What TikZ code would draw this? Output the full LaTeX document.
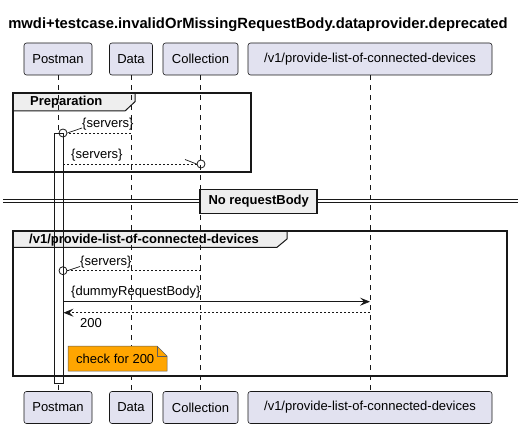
\documentclass[tikz,border=0pt]{standalone}
\usepackage{fontspec}
\setmainfont{Liberation Sans}
\usetikzlibrary{arrows.meta,calc}
\definecolor{partfill}{HTML}{E2E2F0}
\definecolor{lineC}{HTML}{181818}
\definecolor{hdrfill}{HTML}{EEEEEE}
\definecolor{notefill}{HTML}{FFA500}
\begin{document}
\begin{tikzpicture}[x=1pt,y=-1pt,
  font=\fontsize{13}{15}\selectfont,
  part/.style={draw=lineC, fill=partfill, rounded corners=2.5pt, minimum height=32pt, inner sep=0pt, line width=0.6pt},
  lifeline/.style={draw=lineC, line width=0.5pt, dash pattern=on 5pt off 5pt},
  msgline/.style={draw=lineC, line width=0.7pt},
  retline/.style={draw=lineC, line width=0.7pt, dash pattern=on 2pt off 2pt},
  tip/.style={-{Stealth[length=10pt,width=8pt,inset=4pt]}},
  framebox/.style={draw=lineC, line width=1.5pt},
  hdr/.style={fill=hdrfill},
  lbl/.style={anchor=west, inner sep=0pt},
  bold/.style={font=\fontsize{13}{15}\selectfont\bfseries}
]
\useasboundingbox (0,0) rectangle (528,428);

% title
\node[font=\fontsize{14.8}{17}\selectfont\bfseries] (title) at (258,25) {mwdi+testcase.invalidOrMissingRequestBody.dataprovider.deprecated};

% participants top
\node[part, minimum width=68pt] (pT) at (58,59) {Postman};
\node[part, minimum width=43pt] (dT) at (131,59) {Data};
\node[part, minimum width=75pt] (cT) at (200.5,59) {Collection};
\node[part, minimum width=244pt] (vT) at (370,59) {/v1/provide-list-of-connected-devices};
% participants bottom
\node[part, minimum width=68pt] (pB) at (58,407.5) {Postman};
\node[part, minimum width=43pt] (dB) at (131,407.5) {Data};
\node[part, minimum width=75pt] (cB) at (200.5,407.5) {Collection};
\node[part, minimum width=244pt] (vB) at (370,407.5) {/v1/provide-list-of-connected-devices};

% frame headers fills
\fill[hdr] (13,93) -- (135,93) -- (135,101.7) -- (125,111) -- (13,111) -- cycle;
\fill[hdr] (13,231) -- (287,231) -- (287,239) -- (277,247.3) -- (13,247.3) -- cycle;

% lifelines
\draw[lifeline] (pT.south) -- (pB.north);
\draw[lifeline] (dT.south) -- (dB.north);
\draw[lifeline] (cT.south) -- (cB.north);
\draw[lifeline] (vT.south) -- (vB.north);

% activation
\fill[white] (54,133) rectangle (63,383);
\fill[hdr] (54,231.8) rectangle (63,247.3);
\draw[lineC, line width=0.8pt] (54,133) rectangle (63,383);

% frames
\draw[framebox] (13,93) rectangle (251,172);
\draw[lineC, line width=1pt] (135,93) -- (135,101.7) -- (125,111) -- (13,111);
\node[lbl, bold] (prep) at (30,102) {Preparation};

\draw[framebox] (13,231) rectangle (507,376);
\draw[lineC, line width=1pt] (287,231) -- (287,239) -- (277,247.3) -- (13,247.3);
\node[lbl, bold] (v1hdr) at (29,240) {/v1/provide-list-of-connected-devices};

% divider
\draw[lineC, line width=0.8pt] (3,199.7) -- (518,199.7);
\draw[lineC, line width=0.8pt] (3,202.5) -- (518,202.5);
\node[draw=lineC, line width=1.5pt, fill=hdrfill, bold, minimum width=117pt, minimum height=24pt, inner sep=0pt] (div) at (258.7,201.3) {No requestBody};

% message 1: Data -> Postman (found circle)
\coordinate (m1a) at (131,133);
\coordinate (m1c) at (82,128);
\node[draw=lineC, line width=0.8pt, circle, minimum size=8pt, inner sep=0pt] (c1) at (63,133) {};
\draw[retline] (m1a) -- (c1.east);
\draw[lineC, line width=0.7pt] (c1.east) -- (m1c);
\node[lbl] (l1) at (82,124.5) {\{servers\}};

% message 2: Postman -> Collection
\coordinate (m2a) at (63,164);
\coordinate (m2c) at (185,159.5);
\node[draw=lineC, line width=0.8pt, circle, minimum size=8pt, inner sep=0pt] (c2) at (201,164) {};
\draw[retline] (m2a) -- (c2.west);
\draw[lineC, line width=0.7pt] (m2c) -- (c2.west);
\node[lbl] (l2) at (71,155) {\{servers\}};

% message 3: Collection -> Postman
\coordinate (m3a) at (200.5,270.7);
\coordinate (m3c) at (80,266.5);
\node[draw=lineC, line width=0.8pt, circle, minimum size=8pt, inner sep=0pt] (c3) at (63,270.7) {};
\draw[retline] (m3a) -- (c3.east);
\draw[lineC, line width=0.7pt] (c3.east) -- (m3c);
\node[lbl] (l3) at (80,261.7) {\{servers\}};

% message 4: Postman -> /v1
\coordinate (m4a) at (63,301.7);
\coordinate (m4b) at (370,301.7);
\draw[msgline, tip] (m4a) -- (m4b);
\node[lbl] (l4) at (71,292.5) {\{dummyRequestBody\}};

% message 5: /v1 -> Postman
\coordinate (m5a) at (370,312.7);
\coordinate (m5b) at (63.5,312.7);
\draw[retline, tip] (m5a) -- (m5b);
\node[lbl] (l5) at (80,322.7) {200};

% note
\draw[draw=lineC!70, line width=0.5pt, fill=notefill] (68,346) -- (157,346) -- (167,356) -- (167,371) -- (68,371) -- cycle;
\draw[draw=lineC!70, line width=0.5pt] (157,346) -- (157,356) -- (167,356);
\node[lbl] (note) at (76,358.5) {check for 200};
\end{tikzpicture}
\end{document}
